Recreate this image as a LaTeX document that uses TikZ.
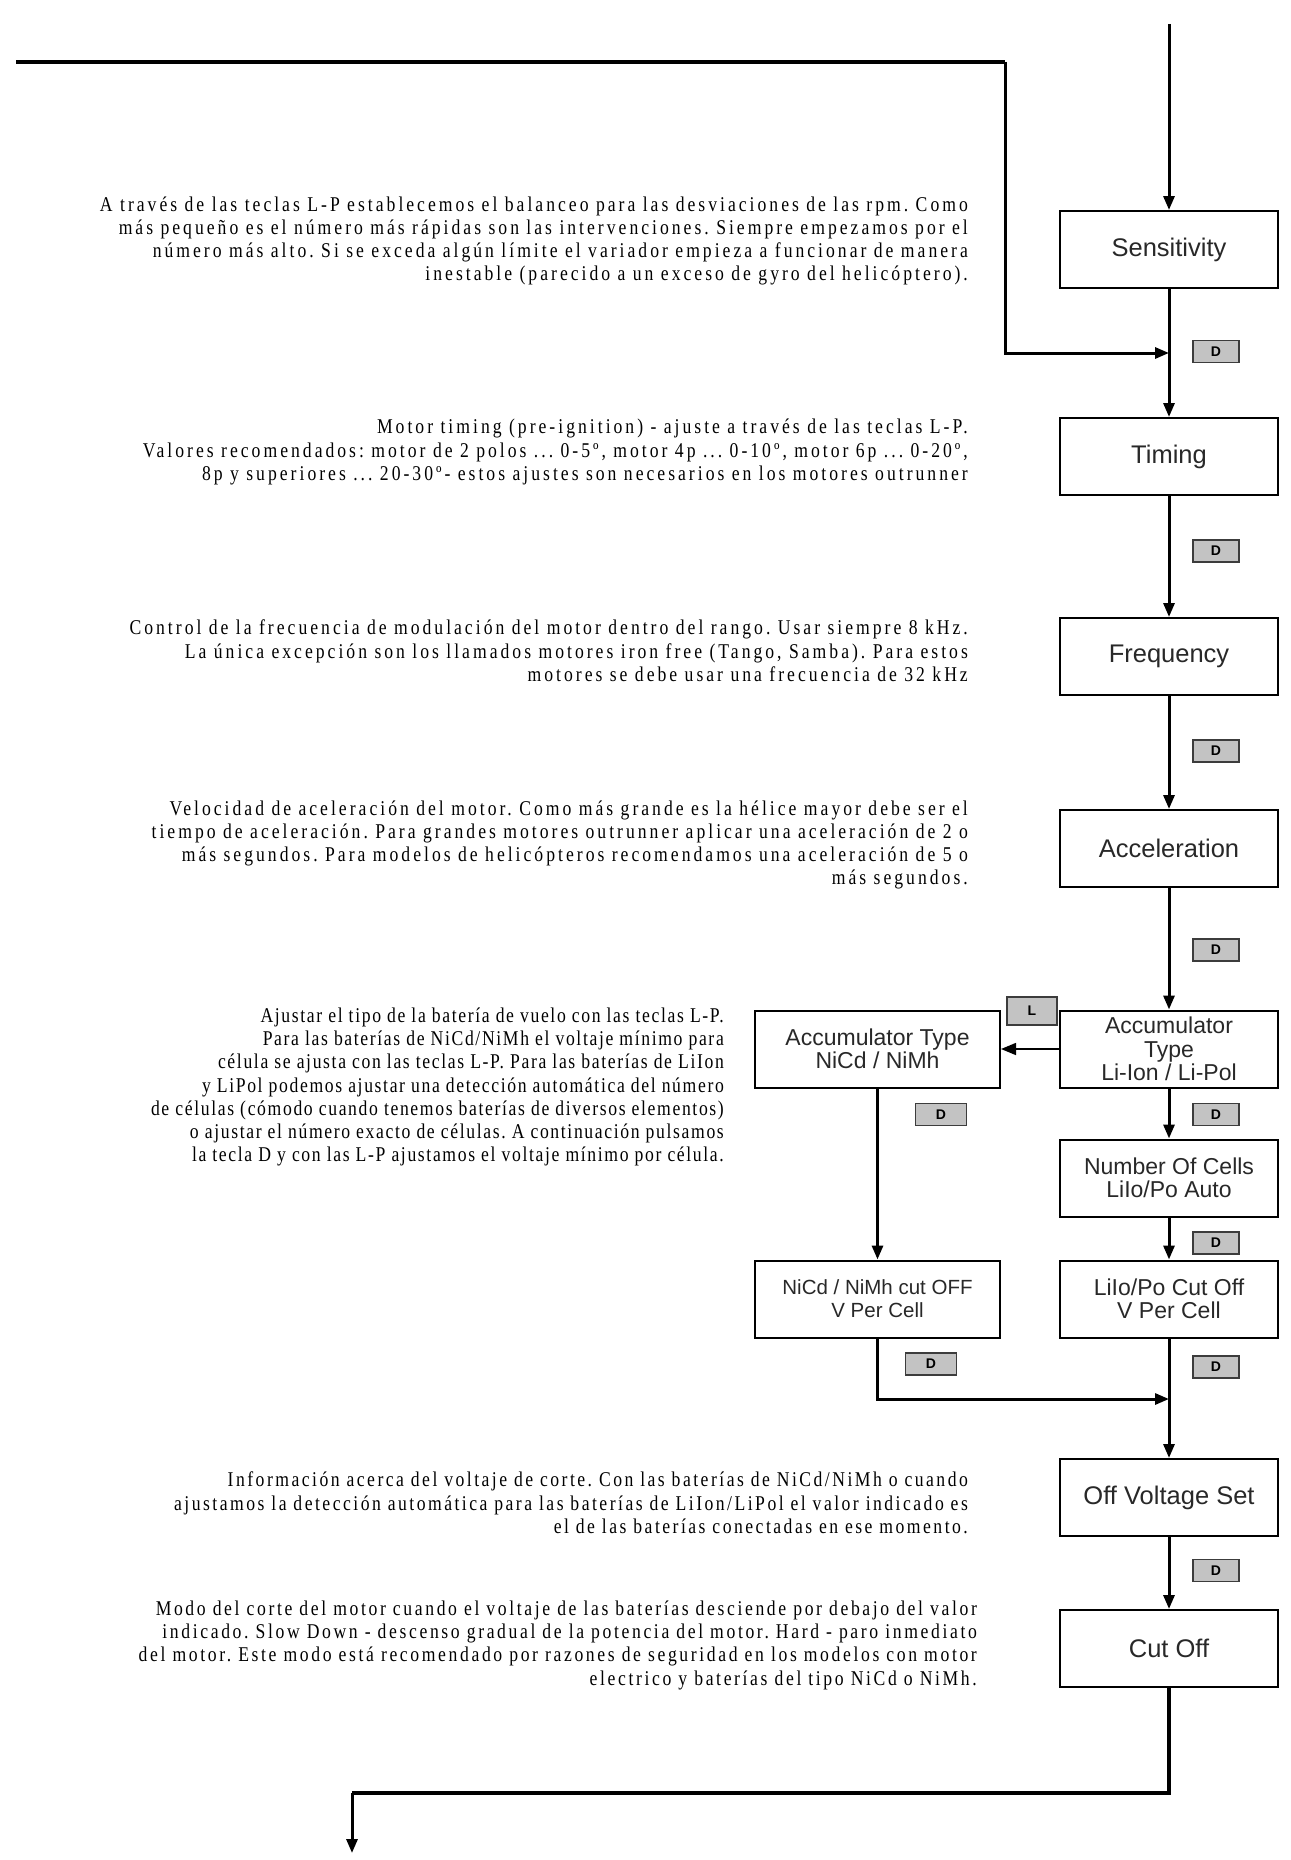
\documentclass[tikz,border=0pt]{standalone}
\usepackage{fontspec}
\usetikzlibrary{arrows.meta}
\newfontfamily\serf[FakeStretch=0.84,LetterSpace=14.3]{Liberation Serif}
\newfontfamily\serg[FakeStretch=0.84,LetterSpace=11.8]{Liberation Serif}
\newfontfamily\seri[FakeStretch=0.84,LetterSpace=12.5]{Liberation Serif}
\newfontfamily\serh[FakeStretch=0.84,LetterSpace=7.8]{Liberation Serif}
\newfontfamily\sanf{Liberation Sans}
\definecolor{keygray}{RGB}{195,195,195}
\definecolor{keyline}{RGB}{60,60,60}
\definecolor{boxtext}{RGB}{40,40,40}
\tikzset{
  stepbox/.style={draw, line width=2pt, minimum width=218pt, minimum height=77pt, inner sep=2pt, align=center, text=boxtext, font=\sanf\fontsize{23}{23.5}\selectfont},
  bigbox/.style={stepbox, font=\sanf\fontsize{25.5}{26}\selectfont},
  widebox/.style={stepbox, minimum width=245pt},
  keybox/.style={draw=keyline, line width=1.6pt, fill=keygray, minimum width=46pt, minimum height=22pt, inner sep=0pt, font=\sanf\bfseries\fontsize{14}{14}\selectfont},
  desc/.style={align=right, inner sep=0pt, anchor=east, text=black, font=\serf\fontsize{21}{23.3}\selectfont\frenchspacing},
  descb/.style={desc, font=\serg\fontsize{21}{23.3}\selectfont\frenchspacing},
  descd/.style={desc, font=\seri\fontsize{21}{23.3}\selectfont\frenchspacing},
  descc/.style={desc, font=\serh\fontsize{21}{23.3}\selectfont\frenchspacing},
  flow/.style={line width=3pt, line join=miter, -{Triangle[length=14pt,width=11pt]}},
  thinflow/.style={line width=1.6pt, -{Triangle[length=15pt,width=12pt]}},
}
\begin{document}
\begin{tikzpicture}[x=1pt,y=-1pt]
\useasboundingbox (0,0) rectangle (1290,1860);
% main column
\node[bigbox] (sens) at (1169,249.5) {Sensitivity};
\node[bigbox] (tim) at (1169,456.5) {Timing};
\node[bigbox] (freq) at (1169,656.5) {Frequency};
\node[bigbox] (acc) at (1169,848.5) {Acceleration};
\node[stepbox] (accli) at (1169,1049) {Accumulator\\Type\\Li-Ion / Li-Pol};
\node[stepbox] (cells) at (1169,1178) {Number Of Cells\\LiIo/Po Auto};
\node[stepbox] (cutli) at (1169,1299) {LiIo/Po Cut Off\\V Per Cell};
\node[bigbox] (offv) at (1169,1497.5) {Off Voltage Set};
\node[bigbox] (cutoff) at (1169,1648.5) {Cut Off};
% left column
\node[widebox] (accni) at (877.5,1049) {Accumulator Type\\NiCd / NiMh};
\node[widebox, font=\sanf\fontsize{20.5}{23}\selectfont] (cutni) at (877.5,1299) {NiCd / NiMh cut OFF\\V Per Cell};
% keys
\node[keybox] (k1) at (1216,351.5) {D};
\node[keybox] (k2) at (1216,551) {D};
\node[keybox] (k3) at (1216,751) {D};
\node[keybox] (k4) at (1216,950) {D};
\node[keybox] (k5) at (1216,1114.5) {D};
\node[keybox] (k6) at (1216,1243) {D};
\node[keybox] (k7) at (1216,1367) {D};
\node[keybox] (k8) at (1216,1570.5) {D};
\node[keybox, minimum width=51pt] (k9) at (941,1114.5) {D};
\node[keybox, minimum width=51pt] (k10) at (931,1364) {D};
\node[keybox, minimum width=50pt, minimum height=28pt] (kl) at (1032,1011) {L};
% coordinates
\coordinate (top) at (1169,24);
\coordinate (tl) at (16,62);
\coordinate (tr) at (1005,62);
\coordinate (bend) at (1005,353);
\coordinate (j1) at (1169,353);
\coordinate (nib) at (877.5,1399);
\coordinate (j2) at (1169,1399);
\coordinate (bb1) at (1169,1793);
\coordinate (bb2) at (352,1793);
\coordinate (bend2) at (352,1853);
% connectors
\draw[flow] (top) -- (sens);
\draw[line width=4.5pt] (tl) -- (tr);
\draw[flow] (tr) -- (bend) -- (j1);
\draw[flow] (sens) -- (tim);
\draw[flow] (tim) -- (freq);
\draw[flow] (freq) -- (acc);
\draw[flow] (acc) -- (accli);
\draw[thinflow] (accli) -- (accni);
\draw[flow] (accli) -- (cells);
\draw[flow] (cells) -- (cutli);
\draw[flow] (accni) -- (cutni);
\draw[flow] (cutni.south) -- (nib) -- (j2);
\draw[flow] (cutli) -- (offv);
\draw[flow] (offv) -- (cutoff);
\draw[line width=3.5pt, line join=miter] (cutoff.south) -- (bb1) -- (bb2);
\draw[flow] (bb2) -- (bend2);
% descriptions
\node[desc] (d1) at (968,241) {A través de las teclas L-P establecemos el balanceo para las desviaciones de las rpm. Como\\
más pequeño es el número más rápidas son las intervenciones. Siempre empezamos por el\\
número más alto. Si se exceda algún límite el variador empieza a funcionar de manera\\
inestable (parecido a un exceso de gyro del helicóptero).};
\node[desc] (d2) at (968,452) {Motor timing (pre-ignition) - ajuste a través de las teclas L-P.\\
Valores recomendados: motor de 2 polos ... 0-5º, motor 4p ... 0-10º, motor 6p ... 0-20º,\\
8p y superiores ... 20-30º- estos ajustes son necesarios en los motores outrunner};
\node[desc] (d3) at (968,651) {Control de la frecuencia de modulación del motor dentro del rango. Usar siempre 8 kHz.\\
La única excepción son los llamados motores iron free (Tango, Samba). Para estos\\
motores se debe usar una frecuencia de 32 kHz};
\node[desc] (d4) at (968,845) {Velocidad de aceleración del motor. Como más grande es la hélice mayor debe ser el\\
tiempo de aceleración. Para grandes motores outrunner aplicar una aceleración de 2 o\\
más segundos. Para modelos de helicópteros recomendamos una aceleración de 5 o\\
más segundos.};
\node[descc] (d5) at (724,1087) {Ajustar el tipo de la batería de vuelo con las teclas L-P.\\
Para las baterías de NiCd/NiMh  el voltaje mínimo para\\
célula se ajusta con las teclas L-P. Para las baterías de LiIon\\
y LiPol podemos ajustar una detección automática del número\\
de células  (cómodo cuando tenemos baterías de diversos elementos)\\
o ajustar el número exacto de células. A continuación pulsamos\\
la tecla D y con las L-P ajustamos el voltaje mínimo por célula.};
\node[descb] (d6) at (968,1503) {Información acerca del voltaje de corte. Con las baterías de NiCd/NiMh o cuando\\
ajustamos la detección automática para las baterías de LiIon/LiPol el valor indicado es\\
el de las baterías conectadas en ese momento.};
\node[descd] (d7) at (977,1645) {Modo del corte del motor cuando el voltaje de las baterías desciende por debajo del valor\\
indicado. Slow Down - descenso gradual de la potencia del motor. Hard - paro inmediato\\
del motor. Este modo está recomendado por razones de seguridad en los modelos con motor\\
electrico y baterías del tipo NiCd o NiMh.};
\end{tikzpicture}
\end{document}
